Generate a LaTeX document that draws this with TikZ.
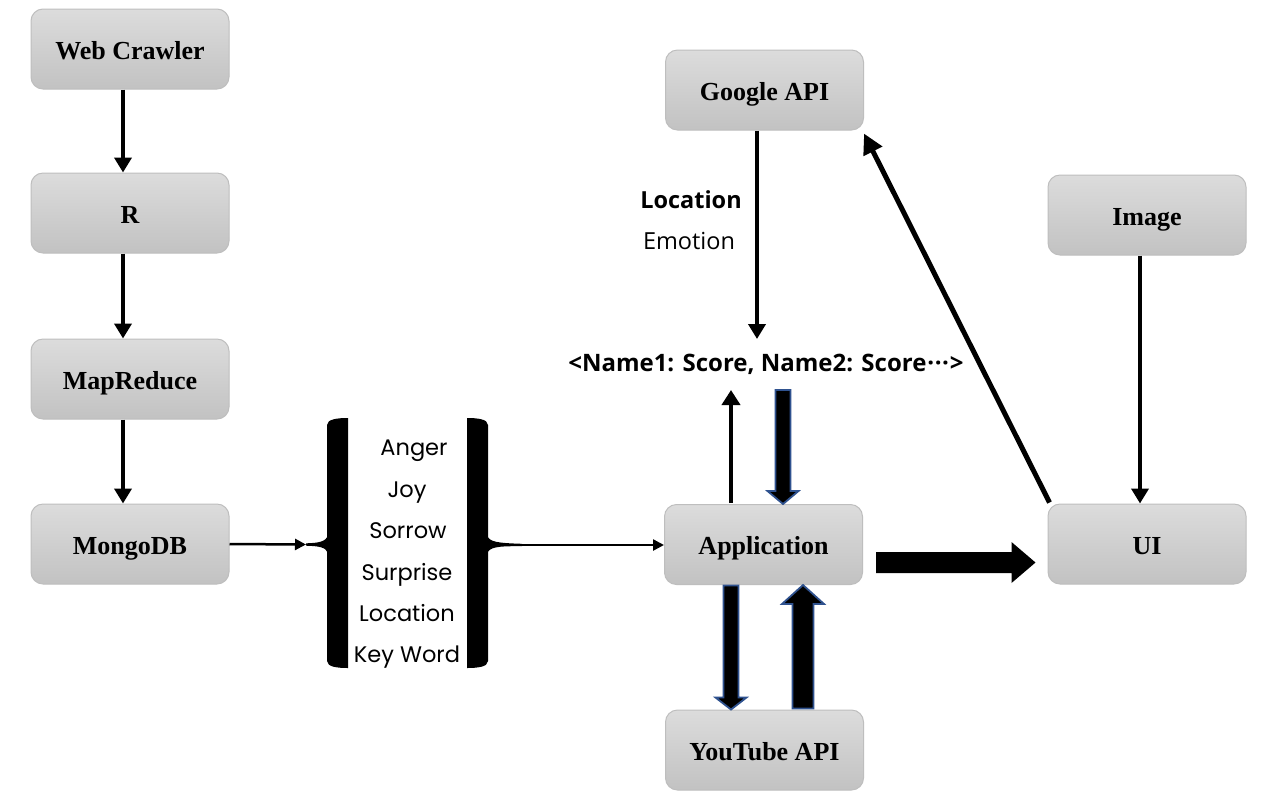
\documentclass[tikz,border=0pt]{standalone}
\usepackage{fontspec}
\setmainfont{Liberation Serif}
\newfontfamily\labfont{Open Sans}
\newfontfamily\brfont{Poppins}
\usetikzlibrary{arrows.meta,calc}
\definecolor{boxtop}{RGB}{220,220,220}
\definecolor{boxbot}{RGB}{194,194,194}
\definecolor{boxline}{RGB}{190,190,190}
\definecolor{blueedge}{RGB}{47,82,143}
\tikzset{
  box/.style={draw=boxline, line width=1pt, rounded corners=12pt,
    top color=boxtop, bottom color=boxbot, minimum width=198pt,
    minimum height=80pt, inner sep=0pt, text height=20pt, text depth=0pt,
    font=\fontsize{26}{30}\selectfont\bfseries},
  flow/.style={line width=4pt, -{Triangle[width=17pt,length=15pt]}},
  thinflow/.style={line width=2.5pt, -{Triangle[width=11pt,length=11pt]}},
  blockblue/.style={fill=black, draw=blueedge, line width=1.8pt, line join=miter},
  blockblack/.style={fill=black},
  lab/.style={font=\labfont\fontsize{23.5}{28}\selectfont, inner sep=0pt},
  brtext/.style={font=\brfont\fontsize{22.5}{26}\selectfont, inner sep=0pt, anchor=base},
  brace/.style={fill=black}
}
% #1 style, #2 from, #3 to, #4 shaft half width, #5 head half width, #6 head length
\newcommand\blockarrow[6]{%
  \coordinate (bah) at ($(#3)!#6!(#2)$);
  \path[#1] ($(#2)!#4!90:(#3)$) -- ($(bah)!#4!90:(#3)$) -- ($(bah)!#5!90:(#3)$)
    -- (#3) -- ($(bah)!#5!-90:(#3)$) -- ($(bah)!#4!-90:(#3)$) -- ($(#2)!#4!-90:(#3)$) -- cycle;
}
\begin{document}
\begin{tikzpicture}[x=1pt,y=-1pt]
\useasboundingbox (0,0) rectangle (1268,807);
\fill[white] (0,0) rectangle (1268,807);

% boxes
\node[box] (wc) at (130,49) {Web Crawler};
\node[box] (r) at (130,213) {R};
\node[box] (mr) at (130,379) {MapReduce};
\node[box] (mg) at (130,544) {MongoDB};
\node[box] (gapi) at (764.5,90) {Google API};
\node[box] (img) at (1147,215) {Image};
\node[box] (app) at (763.5,544.5) {Application};
\node[box] (ui) at (1147,544) {UI};
\node[box] (yt) at (764.5,750) {YouTube API};

% left column
\draw[flow] ($(wc.south)+(-7,0)$) -- ($(r.north)+(-7,0)$);
\draw[flow] ($(r.south)+(-7,0)$) -- ($(mr.north)+(-7,0)$);
\draw[flow] ($(mr.south)+(-7,0)$) -- ($(mg.north)+(-7,0)$);

% braces
\path[brace] (327,425) .. controls (327,419) and (338,418) .. (348,418) -- (348,668)
  .. controls (338,668) and (327,667) .. (327,661) -- cycle;
\path[brace] (328,535) .. controls (326,542) and (318,543) .. (306,543.3) -- (306,545.7)
  .. controls (318,546) and (326,547) .. (328,553) -- cycle;
\coordinate (lbtip) at (306,544.5);
\path[brace] (467,418) .. controls (477,418) and (488,419) .. (488,425) -- (488,661)
  .. controls (488,667) and (477,668) .. (467,668) -- cycle;
\path[brace] (487,535) .. controls (489,542) and (497,543) .. (522,543.8) -- (522,546.2)
  .. controls (497,546) and (489,547) .. (487,554) -- cycle;
\coordinate (rbtip) at (521,545);

\draw[thinflow] (mg.east) -- (lbtip);
\draw[thinflow] (rbtip) -- (app.west |- rbtip);

\node[brtext] (t1) at (414,455) {Anger};
\node[brtext] (t2) at (407,497) {Joy};
\node[brtext] (t3) at (408,538) {Sorrow};
\node[brtext] (t4) at (407,580) {Surprise};
\node[brtext] (t5) at (407,621) {Location};
\node[brtext] (t6) at (407,662) {Key Word};

% google api column
\node[lab, font=\labfont\bfseries\fontsize{23.5}{28}\selectfont] (loc) at (691,200) {Location};
\node[lab] (emo) at (689,241) {Emotion};
\node[lab, font=\labfont\bfseries\fontsize{24}{28}\selectfont] (nm) at (766,364)
  {<Name1: Score, Name2: Score\kern1pt·\kern0.5pt·\kern0.5pt·\kern1pt>};
\coordinate (gend) at (757,339);
\draw[flow] ($(gapi.south)+(-7.5,0)$) -- (gend);

% application up / down
\coordinate (uptop) at (731,390);
\draw[line width=4pt, -{Triangle[width=18pt,length=15pt]}] ($(app.north)+(-32.5,-1)$) -- (uptop);
\coordinate (dntop) at (783,390);
\coordinate (dnbot) at ($(app.north)+(19.5,0)$);
\blockarrow{blockblue}{dntop}{dnbot}{7.5pt}{15.5pt}{13pt}

% youtube arrows
\coordinate (y1s) at ($(app.south)+(-32.5,0.5)$);
\coordinate (y1e) at ($(yt.north)+(-33.5,0)$);
\blockarrow{blockblue}{y1s}{y1e}{7.5pt}{15.5pt}{12pt}
\coordinate (y2s) at ($(yt.north)+(38.5,-1)$);
\coordinate (y2e) at ($(app.south)+(39.5,0)$);
\blockarrow{blockblue}{y2s}{y2e}{10.5pt}{21pt}{19pt}

% big arrow to UI
\coordinate (bs) at ($(app.east)+(13,18)$);
\coordinate (be) at ($(ui.west)+(-12,18.5)$);
\blockarrow{blockblack}{bs}{be}{10.5pt}{20.5pt}{24pt}

% image -> UI
\draw[flow] ($(img.south)+(-7,0)$) -- ($(ui.north)+(-7,0)$);
% UI -> Google API
\draw[line width=5pt, -{Triangle[width=20pt,length=20pt]}] ($(ui.north west)+(2,-1)$) -- ($(gapi.south east)+(0,3)$);
\end{tikzpicture}
\end{document}
